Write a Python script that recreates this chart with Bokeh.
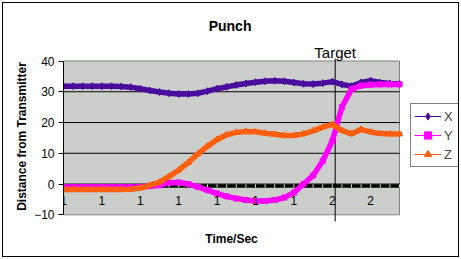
from bokeh.plotting import figure
from bokeh.models import (Range1d, FixedTicker, Label, Legend, LegendItem,
                          ColumnDataSource, InlineStyleSheet)
from bokeh.core.properties import value
from bokeh.embed import file_html
from bokeh.resources import INLINE

# ---- data ----
CATEGORIES = list(range(36))
SERIES_X = [31.8, 31.8, 31.8, 31.8, 31.8, 31.8, 31.7, 31.5, 31.0, 30.4, 29.9, 29.5,
            29.3, 29.3, 29.5, 30.2, 31.0, 31.6, 32.2, 32.7, 33.1, 33.4, 33.6, 33.4,
            33.0, 32.6, 32.5, 32.8, 33.3, 32.4, 31.8, 33.0, 33.6, 33.0, 32.7, 32.6]
SERIES_Y = [-1.0, -1.0, -1.0, -1.0, -1.0, -1.0, -1.0, -1.0, -0.9, -0.7, -0.4, 0.4,
            0.5, 0.0, -0.9, -2.0, -3.1, -4.0, -4.7, -5.2, -5.5, -5.5, -5.2, -4.4,
            -2.8, 0.0, 2.8, 7.5, 14.0, 25.0, 30.8, 32.0, 32.3, 32.4, 32.4, 32.4]
SERIES_Z = [-1.8, -1.8, -1.8, -1.8, -1.8, -1.8, -1.8, -1.7, -1.3, -0.4, 0.6, 2.5,
            4.5, 7.0, 9.8, 12.3, 14.5, 16.0, 16.8, 17.1, 17.0, 16.5, 16.2, 15.8,
            15.8, 16.3, 17.3, 18.5, 19.4, 17.4, 16.3, 17.8, 16.9, 16.4, 16.3, 16.3]
SERIES_NAMES = ["X", "Y", "Z"]
X_TICK_POS = [0, 4, 8, 12, 16, 20, 24, 28, 32]
X_TICK_LABELS = ["1", "1", "1", "1", "1", "1", "1", "2", "2"]
Y_TICKS = [-10, 0, 10, 20, 30, 40]
AXIS_CROSS = -0.6
TARGET_X = 28.3

# ---- styles / layout ----
FONT = "Liberation Sans"
PLOT_BG = "#cbcecb"
COLORS = ["#4b0c9e", "#ff00ff", "#ff5f0f"]
MARKERS = ["diamond", "square", "triangle"]
MARKER_SIZES = [7, 5, 6]
W, H = 461, 259
FRAME_LEFT, FRAME_TOP = 63, 13
PX_PER_CAT = 9.6          # horizontal pixels per category
PX_TOP_TICK = 60.5        # pixel row of the top y tick
PX_PER_UNIT = 3.076       # vertical pixels per data unit

N = len(CATEGORIES)
x_end = (W - FRAME_LEFT) / PX_PER_CAT
y_top = Y_TICKS[-1] + (PX_TOP_TICK - FRAME_TOP) / PX_PER_UNIT
y_bot = Y_TICKS[-1] - (H - PX_TOP_TICK) / PX_PER_UNIT


def y_at(px):
    return Y_TICKS[-1] - (px - PX_TOP_TICK) / PX_PER_UNIT


border_css = InlineStyleSheet(css="""
:host::after { content: ""; position: absolute; left: 2px; top: 2px; right: 2px; bottom: 2px;
  border: 1px solid black; pointer-events: none; z-index: 100; }
""")

p = figure(width=W, height=H, output_backend="svg", toolbar_location=None,
           x_range=Range1d(0, x_end), y_range=Range1d(y_bot, y_top),
           title=None, x_axis_location=None,
           min_border_left=FRAME_LEFT, min_border_right=0,
           min_border_top=FRAME_TOP, min_border_bottom=0,
           stylesheets=[border_css])
p.background_fill_color = "white"
p.border_fill_color = "white"
p.outline_line_color = None
p.xgrid.visible = False
p.ygrid.visible = False

# plot area
p.quad(left=[CATEGORIES[0]], right=[CATEGORIES[-1]], bottom=[Y_TICKS[0]], top=[Y_TICKS[-1]],
       fill_color=PLOT_BG, line_color="#808080", line_width=1)

# horizontal gridlines
grid_vals = Y_TICKS[1:-1]
p.segment(x0=[CATEGORIES[0]] * len(grid_vals), x1=[CATEGORIES[-1]] * len(grid_vals),
          y0=grid_vals, y1=grid_vals, line_color="black", line_width=1)

# y axis
yax = p.yaxis[0]
yax.ticker = FixedTicker(ticks=Y_TICKS)
yax.bounds = (Y_TICKS[0], Y_TICKS[-1])
yax.axis_line_color = "black"
yax.major_tick_line_color = "black"
yax.major_tick_out = 5
yax.major_tick_in = 0
yax.minor_tick_line_color = None
yax.major_label_text_font = FONT
yax.major_label_text_font_size = "12px"
yax.major_label_text_color = "black"
yax.major_label_standoff = 4
yax.axis_label = "Distance from Transmitter"
yax.axis_label_text_font = FONT
yax.axis_label_text_font_style = "bold"
yax.axis_label_text_font_size = "12px"
yax.axis_label_text_color = "black"
yax.axis_label_standoff = 2

# category axis line with ticks crossing at AXIS_CROSS
p.line(x=[CATEGORIES[0], CATEGORIES[-1]], y=[AXIS_CROSS, AXIS_CROSS],
       line_color="black", line_width=3.5)
p.segment(x0=CATEGORIES, x1=CATEGORIES, y0=[AXIS_CROSS - 0.5] * N, y1=[AXIS_CROSS + 0.5] * N,
          line_color="#e6e6e6", line_width=1)

# target line
p.segment(x0=[TARGET_X], x1=[TARGET_X], y0=[y_at(221)], y1=[y_at(58)],
          line_color="black", line_width=1)

# series: thin line (used by the legend), thick line, dense markers
src = ColumnDataSource(dict(t=CATEGORIES, x=SERIES_X, y=SERIES_Y, z=SERIES_Z))
items = []
for name, col, c, mk, sz in zip(SERIES_NAMES, ("x", "y", "z"), COLORS, MARKERS, MARKER_SIZES):
    thin = p.line(x="t", y=col, source=src, line_color=c, line_width=1)
    p.line(x="t", y=col, source=src, line_color=c, line_width=5.5,
           line_join="round", line_cap="round")
    mr = p.scatter(x="t", y=col, source=src, marker=mk, size=sz, fill_color=c, line_color=c)
    items.append(LegendItem(label=name, renderers=[thin, mr]))

# category tick labels
p.text(x=X_TICK_POS, y=[AXIS_CROSS] * len(X_TICK_POS), text=X_TICK_LABELS,
       text_font=value(FONT), text_font_size="12px", text_color="black",
       text_align="center", text_baseline="middle", y_offset=15)

# texts
mid = (CATEGORIES[0] + CATEGORIES[-1]) / 2
p.add_layout(Label(x=TARGET_X, y=y_at(51.5), text="Target", text_font=FONT,
                   text_font_size="15px", text_align="center", text_baseline="alphabetic",
                   text_color="black"))
p.add_layout(Label(x=mid - 0.15, y=y_at(25), text="Punch", text_font=FONT,
                   text_font_size="14px", text_font_style="bold", text_align="center",
                   text_baseline="alphabetic", text_color="black"))
p.add_layout(Label(x=mid, y=y_at(238), text="Time/Sec", text_font=FONT,
                   text_font_size="12px", text_font_style="bold", text_align="center",
                   text_baseline="alphabetic", text_color="black"))

# legend
legend = Legend(items=items, location=(410 - FRAME_LEFT, H - 167), border_line_color="black",
                border_line_width=1, background_fill_color="white", background_fill_alpha=1,
                glyph_width=27, glyph_height=18, label_standoff=3, padding=3, spacing=1,
                margin=0, label_text_font=FONT, label_text_font_size="13px",
                label_height=18, label_width=11)
p.add_layout(legend, "center")

open("out.html", "w").write(file_html(p, INLINE))
